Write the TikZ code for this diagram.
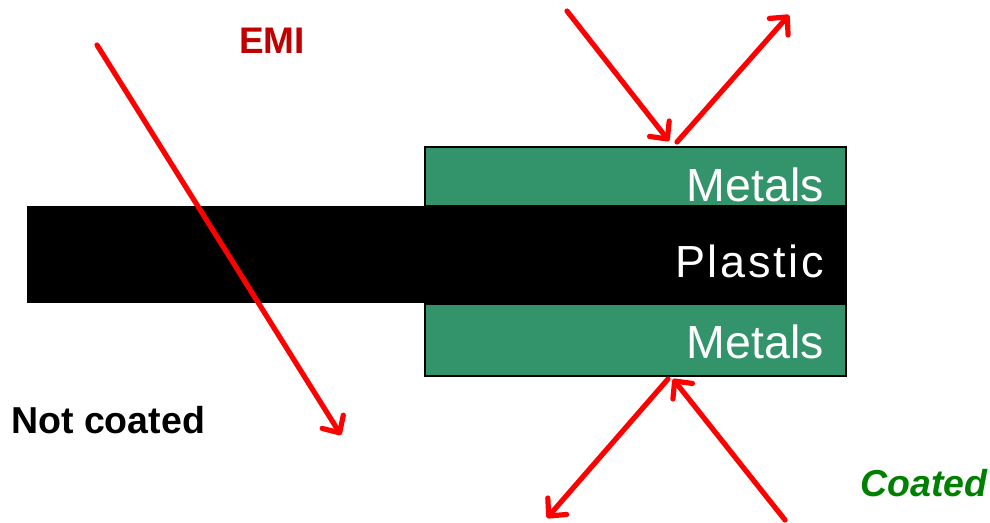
\documentclass[tikz,border=0pt]{standalone}
\usepackage{fontspec}
\setmainfont{Liberation Sans}
\usetikzlibrary{arrows.meta}
\definecolor{metalgreen}{RGB}{51,148,107}
\definecolor{emired}{RGB}{192,0,0}
\definecolor{coatgreen}{RGB}{0,128,0}
\tikzset{
  layer/.style={draw=black, line width=2pt, inner sep=0pt, anchor=north west},
  plasticbar/.style={layer, fill=black},
  metalbox/.style={layer, fill=metalgreen},
  layertext/.style={text=white, anchor=base east, inner sep=0pt},
  caption/.style={anchor=base west, inner sep=0pt, font=\bfseries\fontsize{36}{40}\selectfont},
  ray/.style={draw=red, line width=5.2pt, line cap=round,
    -{Straight Barb[length=13pt,width=25pt,round]}}
}
\begin{document}
\begin{tikzpicture}[x=1pt, y=-1pt]
  \useasboundingbox (0,0) rectangle (990,522);

  % layered stack: plastic core with metal coating on the right part
  \node[plasticbar, minimum width=818pt, minimum height=95pt] (plastic) at (27,206) {};
  \node[metalbox, minimum width=421pt, minimum height=59pt] (metaltop) at (424,146) {};
  \node[metalbox, minimum width=421pt, minimum height=72pt] (metalbot) at (424,303) {};

  \node[layertext, font=\fontsize{46.5}{50}\selectfont] (ltop) at (824,201) {Metals};
  \node[layertext, font=\fontsize{45}{50}\selectfont\addfontfeatures{LetterSpace=6}] (lplastic) at (824,277) {Plastic};
  \node[layertext, font=\fontsize{46.5}{50}\selectfont] (lbot) at (824,358) {Metals};

  % captions
  \node[caption, text=emired, font=\bfseries\fontsize{37}{40}\selectfont] (emi) at (239,53) {EMI};
  \node[caption, text=black, font=\bfseries\fontsize{37.5}{40}\selectfont] (notcoated) at (11,433) {Not coated};
  \node[caption, text=coatgreen, font=\bfseries\itshape\fontsize{37.5}{40}\selectfont] (coated) at (860,496) {Coated};

  % ray end points
  \coordinate (a1) at (97,45);
  \coordinate (a2) at (341,435);
  \coordinate (t1) at (567,11);
  \coordinate (t2) at (669,141);
  \coordinate (t3) at (677,142);
  \coordinate (t4) at (789,15);
  \coordinate (b1) at (785,520);
  \coordinate (b2) at (673,379);
  \coordinate (b3) at (668,379);
  \coordinate (b4) at (547,518);

  % EMI passing through the bare plastic
  \draw[ray] (a1) -- (a2);
  % EMI reflected by the metal coating
  \draw[ray] (t1) -- (t2);
  \draw[ray] (t3) -- (t4);
  \draw[ray] (b1) -- (b2);
  \draw[ray] (b3) -- (b4);
\end{tikzpicture}
\end{document}
